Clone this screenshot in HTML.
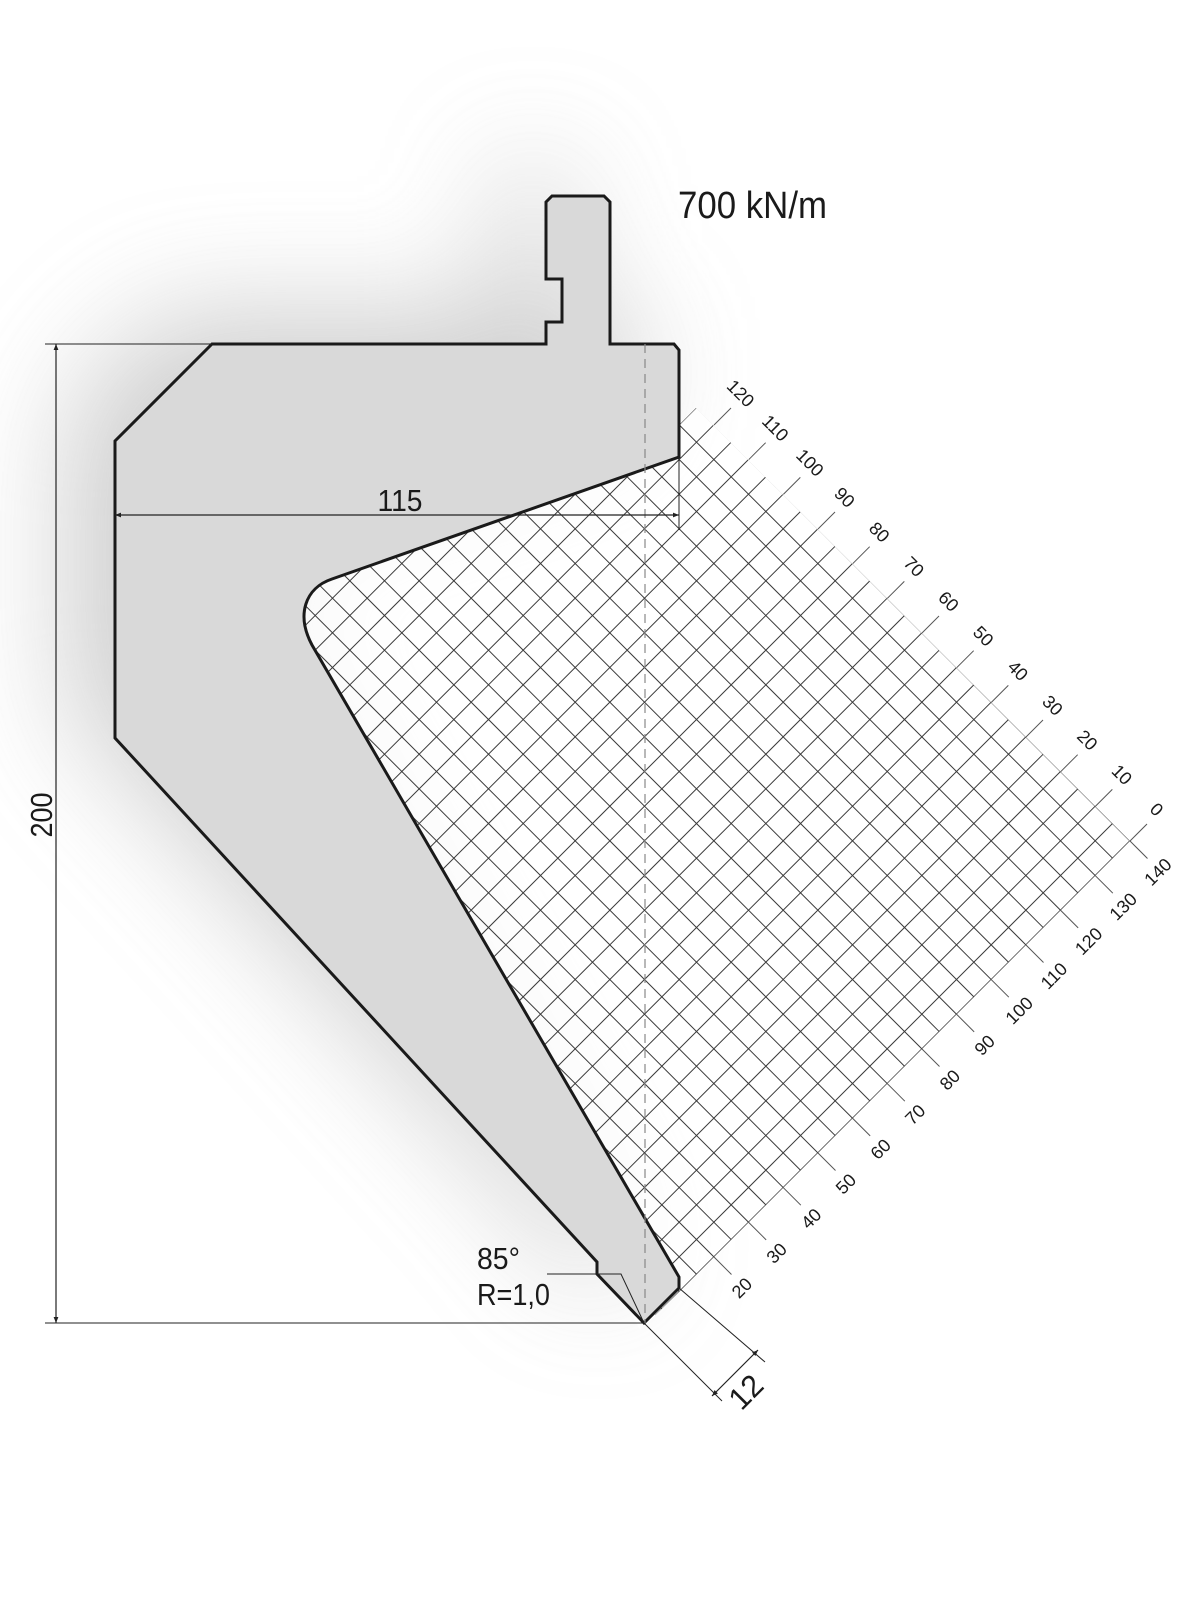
<!DOCTYPE html>
<html><head><meta charset="utf-8"><style>
html,body{margin:0;padding:0;background:#fff;}
svg{display:block;}
text{font-family:"Liberation Sans Narrow","Liberation Sans",sans-serif;fill:#1a1a1a;}
</style></head><body>
<svg id="s" width="1200" height="1600" viewBox="0 0 1200 1600" xmlns="http://www.w3.org/2000/svg">
<defs>
<filter id="blur" x="-50%" y="-50%" width="200%" height="200%"><feGaussianBlur stdDeviation="60"/></filter>
<clipPath id="gc"><polygon points="696,408 1130,841 680,1291 640,1330 300,640 300,570 679,455 679,425"/></clipPath>
<marker id="ar" viewBox="0 0 10 10" refX="10" refY="5" markerWidth="10" markerHeight="6" orient="auto-start-reverse" markerUnits="userSpaceOnUse"><path d="M0,1 L10,5 L0,9 z" fill="#222"/></marker>
</defs>
<rect width="1200" height="1600" fill="#fff"/>
<path d="M546,202 L552,196 L604,196 L610,202 L610,344 L674,344 L679,350 L679,457 L332,579 C305,588 296,615 312,645 L679,1277 L679,1288 L644,1323 L597,1274 L597,1262 L115,738 L115,441 L212,344 L546,344 Z" fill="#b8b8b8" filter="url(#blur)" transform="translate(-45,-30)" opacity="0.7"/>
<polygon points="696,408 1130,841 680,1291 640,1330 300,640 300,570 679,455 679,425" fill="#fff" opacity="0.75"/>
<g id="grid" clip-path="url(#gc)" stroke="#3a3a3a" stroke-width="1" fill="none"></g>
<g id="ticks" stroke="#555" stroke-width="1" fill="none"></g>
<path d="M546,202 L552,196 L604,196 L610,202 L610,344 L674,344 L679,350 L679,457 L332,579 C305,588 296,615 312,645 L679,1277 L679,1288 L644,1323 L597,1274 L597,1262 L115,738 L115,441 L212,344 L546,344 L546,322 L562,322 L562,279 L546,279 Z" fill="#d9d9d9" stroke="#1a1a1a" stroke-width="3" stroke-linejoin="miter"/>
<line x1="645" y1="344" x2="645" y2="1323" stroke="#888" stroke-width="1.2" stroke-dasharray="9,6"/>
<line x1="45" y1="344" x2="212" y2="344" stroke="#222" stroke-width="1"/>
<line x1="45" y1="1323" x2="644" y2="1323" stroke="#222" stroke-width="1"/>
<line x1="56" y1="344" x2="56" y2="1323" stroke="#222" stroke-width="1.2" marker-start="url(#ar)" marker-end="url(#ar)"/>
<text x="0" y="0" font-size="31" text-anchor="middle" textLength="45" lengthAdjust="spacingAndGlyphs" transform="translate(52,815) rotate(-90)">200</text>
<line x1="679" y1="457" x2="679" y2="530" stroke="#222" stroke-width="1"/>
<line x1="115" y1="515" x2="679" y2="515" stroke="#222" stroke-width="1.2" marker-start="url(#ar)" marker-end="url(#ar)"/>
<text x="400" y="511" font-size="31" text-anchor="middle" textLength="45" lengthAdjust="spacingAndGlyphs">115</text>
<text x="678" y="218" font-size="38" textLength="149" lengthAdjust="spacingAndGlyphs">700 kN/m</text>
<text x="477" y="1269" font-size="31" textLength="43" lengthAdjust="spacingAndGlyphs">85°</text>
<text x="477" y="1305" font-size="31" textLength="73" lengthAdjust="spacingAndGlyphs">R=1,0</text>
<polyline points="547,1274 621,1274 644,1323" fill="none" stroke="#222" stroke-width="1"/>
<line x1="644" y1="1323" x2="722" y2="1401" stroke="#222" stroke-width="1"/>
<line x1="679" y1="1288" x2="765" y2="1362" stroke="#222" stroke-width="1"/>
<line x1="712" y1="1396" x2="758" y2="1350" stroke="#222" stroke-width="1.2" marker-start="url(#ar)" marker-end="url(#ar)"/>
<text x="0" y="0" font-size="31" text-anchor="middle" dominant-baseline="central" textLength="34" lengthAdjust="spacingAndGlyphs" transform="translate(746,1392) rotate(-45)">12</text>
<g font-size="18" text-anchor="middle" dominant-baseline="central">
<text transform="translate(740.5,393.5) rotate(45)">120</text>
<text transform="translate(775.2,428.2) rotate(45)">110</text>
<text transform="translate(809.8,462.8) rotate(45)">100</text>
<text transform="translate(844.5,497.5) rotate(45)">90</text>
<text transform="translate(879.2,532.2) rotate(45)">80</text>
<text transform="translate(913.8,566.8) rotate(45)">70</text>
<text transform="translate(948.5,601.5) rotate(45)">60</text>
<text transform="translate(983.2,636.2) rotate(45)">50</text>
<text transform="translate(1017.8,670.8) rotate(45)">40</text>
<text transform="translate(1052.5,705.5) rotate(45)">30</text>
<text transform="translate(1087.2,740.2) rotate(45)">20</text>
<text transform="translate(1121.8,774.8) rotate(45)">10</text>
<text transform="translate(1156.5,809.5) rotate(45)">0</text>
<text transform="translate(1158,872) rotate(-45)">140</text>
<text transform="translate(1123.3,906.7) rotate(-45)">130</text>
<text transform="translate(1088.7,941.3) rotate(-45)">120</text>
<text transform="translate(1054,976) rotate(-45)">110</text>
<text transform="translate(1019.3,1010.7) rotate(-45)">100</text>
<text transform="translate(984.7,1045.3) rotate(-45)">90</text>
<text transform="translate(950,1080) rotate(-45)">80</text>
<text transform="translate(915.3,1114.7) rotate(-45)">70</text>
<text transform="translate(880.7,1149.3) rotate(-45)">60</text>
<text transform="translate(846,1184) rotate(-45)">50</text>
<text transform="translate(811.3,1218.7) rotate(-45)">40</text>
<text transform="translate(776.7,1253.3) rotate(-45)">30</text>
<text transform="translate(742,1288) rotate(-45)">20</text>
</g>
</svg>
<script>
(function(){
var NS="http://www.w3.org/2000/svg";
var g=document.getElementById("grid"),t=document.getElementById("ticks");
function P(u,v){return [(u+v)/2,(u-v)/2];}
function L(par,a,b){var l=document.createElementNS(NS,"line");l.setAttribute("x1",a[0]);l.setAttribute("y1",a[1]);l.setAttribute("x2",b[0]);l.setAttribute("y2",b[1]);par.appendChild(l);}
var s=34.667;
for(var k=-9;k<=25;k++){var u=1104+s*k;L(g,P(u,-660),P(u,289));}
for(var k=0;k<=27;k++){var v=289-s*k;L(g,P(800,v),P(1971,v));}
for(var i=0;i<=12;i++){var u=1139+2*s*i;L(t,P(u,289),P(u,323));}
for(var j=0;j<=12;j++){var v=289-2*s*j;L(t,P(1971,v),P(2006,v));}
})();
</script>
</body></html>
